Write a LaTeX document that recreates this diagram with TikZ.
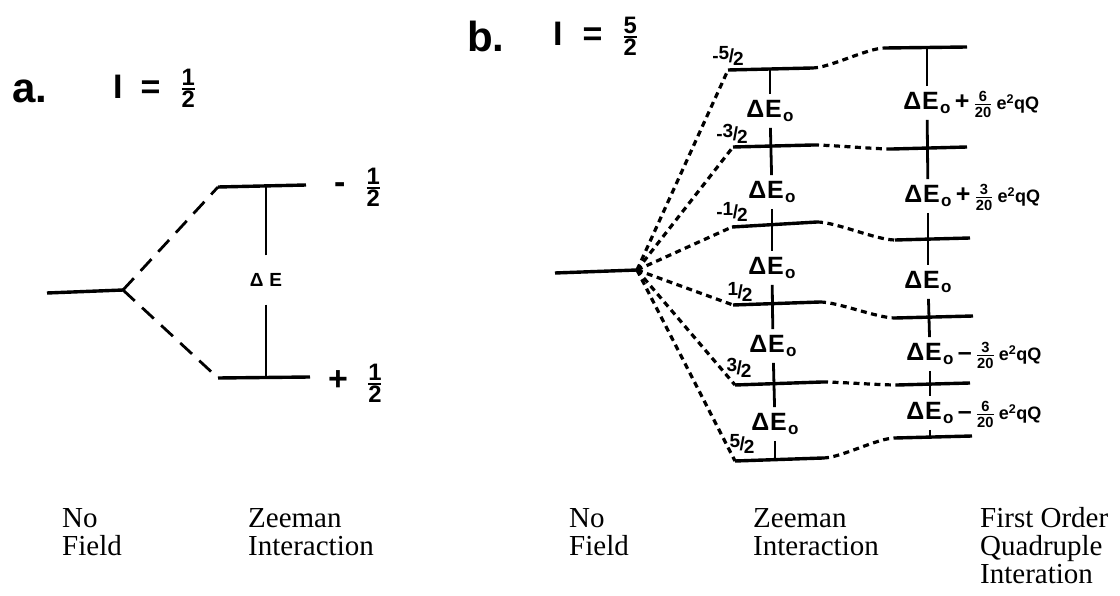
\documentclass[tikz,border=0pt]{standalone}
\usepackage{amsmath}
\usepackage{fontspec}
\setmainfont{Liberation Serif}
\newfontfamily\sanslab{Liberation Sans}
\usetikzlibrary{positioning}

\newcommand{\stk}[2]{\ensuremath{\genfrac{}{}{1.6pt}{1}{\text{#1}}{\text{#2}}}}
\newcommand{\slf}[2]{\raisebox{0.35ex}{#1}\kern-0.02em/\kern-0.06em\raisebox{-0.3ex}{#2}}
\newcommand{\dEo}{Δ\kern0.03em E\kern0.05em\raisebox{-0.3ex}{\fontsize{17}{17}\selectfont o}}
\newcommand{\eqQ}{{\fontsize{18}{18}\selectfont e\textsuperscript{2}qQ}}

\tikzset{
  lvl/.style={line width=3.4pt},
  longdash/.style={line width=2.8pt, dash pattern=on 16pt off 10pt},
  shortdash/.style={line width=3.2pt, dash pattern=on 6pt off 4.5pt},
  spine/.style={line width=2.8pt},
  gaplab/.style={font=\sanslab\bfseries\fontsize{25}{25}\selectfont, inner xsep=1pt, inner ysep=6pt},
  qextra/.style={font=\sanslab\bfseries\fontsize{25}{25}\selectfont, inner sep=0pt},
  mlab/.style={font=\sanslab\bfseries\fontsize{19}{19}\selectfont, inner sep=0pt},
  head/.style={font=\sanslab\bfseries\fontsize{42}{42}\selectfont, inner sep=0pt, anchor=base west},
  spin/.style={font=\sanslab\bfseries\fontsize{34}{34}\selectfont, inner sep=0pt, anchor=base west},
  colname/.style={font=\fontsize{29}{28}\selectfont, align=left, anchor=base west, inner sep=0pt}
}

\begin{document}
\begin{tikzpicture}[x=1pt, y=-1pt]
    \useasboundingbox (0,0) rectangle (1120,596);

    % a. I = 1/2
    \node[head] (ha) at (12,103) {a.};
    \node[spin] (sa) at (113,99) {I\hspace{18pt}=\hspace{20pt}\raisebox{4pt}{\stk{1}{2}}};

    \coordinate (a0l) at (47,293);
    \coordinate (a0r) at (123,290);
    \coordinate (aUl) at (218,187);
    \coordinate (aUr) at (306,185);
    \coordinate (aLl) at (218,378);
    \coordinate (aLr) at (310,377);

    \draw[lvl] (a0l) -- (a0r);
    \draw[longdash] (a0r) -- (aUl);
    \draw[longdash] (a0r) -- (aLl);
    \draw[lvl] (aUl) -- (aUr);
    \draw[lvl] (aLl) -- (aLr);

    \node[font=\sanslab\bfseries\fontsize{19}{19}\selectfont, inner xsep=1pt, inner ysep=18pt] (dEa) at (266,280) {Δ\hspace{6pt}E};
    \draw[spine] (dEa.north) -- (dEa.north |- aUr);
    \draw[spine] (dEa.south) -- (dEa.south |- aLr);

    \node[spin] (mUa) at (334,194) {-\hspace{20pt}\stk{1}{2}};
    \node[spin] (mLa) at (328,390) {+\hspace{19pt}\stk{1}{2}};

    % b. I = 5/2
    \node[head] (hb) at (467,52) {b.};
    \node[spin] (sb) at (553,46) {I\hspace{20pt}=\hspace{20pt}\raisebox{3pt}{\stk{5}{2}}};

    \coordinate (b0l) at (555,273);
    \coordinate (b0r) at (637,270);
    \draw[lvl] (b0l) -- (b0r);

    % Zeeman levels
    \coordinate (z1l) at (728,70);  \coordinate (z1r) at (812,68);
    \coordinate (z2l) at (733,147); \coordinate (z2r) at (813,145);
    \coordinate (z3l) at (732,227); \coordinate (z3r) at (817,222);
    \coordinate (z4l) at (733,305); \coordinate (z4r) at (820,302);
    \coordinate (z5l) at (735,385); \coordinate (z5r) at (822,382);
    \coordinate (z6l) at (735,461); \coordinate (z6r) at (823,458);

    % Quadrupole levels
    \coordinate (q1l) at (885,48);  \coordinate (q1r) at (967,47);
    \coordinate (q2l) at (892,149); \coordinate (q2r) at (967,147);
    \coordinate (q3l) at (895,240); \coordinate (q3r) at (970,238);
    \coordinate (q4l) at (895,318); \coordinate (q4r) at (973,316);
    \coordinate (q5l) at (897,385); \coordinate (q5r) at (970,383);
    \coordinate (q6l) at (895,438); \coordinate (q6r) at (972,436);

    \foreach \i in {1,...,6} {
        \draw[shortdash] (b0r) -- (z\i l);
        \draw[lvl] (z\i l) -- (z\i r);
        \draw[shortdash] (z\i r) to[out=0, in=180, looseness=0.6] (q\i l);
        \draw[lvl] (q\i l) -- (q\i r);
    }

    % m labels
    \node[mlab] (m1) at (728,56)  {-\slf{5}{2}};
    \node[mlab] (m2) at (732,134) {-\slf{3}{2}};
    \node[mlab] (m3) at (732,212) {-\slf{1}{2}};
    \node[mlab] (m4) at (740,292) {\slf{1}{2}};
    \node[mlab] (m5) at (739,368) {\slf{3}{2}};
    \node[mlab] (m6) at (742,444) {\slf{5}{2}};

    % Zeeman splittings
    \node[gaplab] (dz1) at (770,111) {\dEo};
    \node[gaplab] (dz2) at (772,192) {\dEo};
    \node[gaplab] (dz3) at (772,268) {\dEo};
    \node[gaplab] (dz4) at (773,346) {\dEo};
    \node[gaplab] (dz5) at (775,424) {\dEo};
    \draw[spine] (dz1.north) -- (dz1.north |- z1r);
    \draw[spine] (dz1) -- (dz2);
    \draw[spine] (dz2) -- (dz3);
    \draw[spine] (dz3) -- (dz4);
    \draw[spine] (dz4) -- (dz5);
    \draw[spine] (dz5.south) -- (dz5.south |- z6r);

    % Quadrupole splittings
    \node[gaplab] (qd1) at (927,103) {\dEo};
    \node[gaplab] (qd2) at (928,196) {\dEo};
    \node[gaplab] (qd3) at (928,282) {\dEo};
    \node[gaplab] (qd4) at (930,354) {\dEo};
    \node[gaplab] (qd5) at (930,413) {\dEo};
    \draw[spine] (qd1.north) -- (qd1.north |- q1r);
    \draw[spine] (qd1) -- (qd2);
    \draw[spine] (qd2) -- (qd3);
    \draw[spine] (qd3) -- (qd4);
    \draw[spine] (qd4) -- (qd5);
    \draw[spine] (qd5.south) -- (qd5.south |- q6r);

    \node[qextra, right=3pt of qd1.base east, anchor=base west] (qx1) {+\,{\fontsize{21}{21}\selectfont\stk{6}{20}}\,\eqQ};
    \node[qextra, right=3pt of qd2.base east, anchor=base west] (qx2) {+\,{\fontsize{21}{21}\selectfont\stk{3}{20}}\,\eqQ};
    \node[qextra, right=3pt of qd4.base east, anchor=base west] (qx4) {\textendash\,{\fontsize{21}{21}\selectfont\stk{3}{20}}\,\eqQ};
    \node[qextra, right=3pt of qd5.base east, anchor=base west] (qx5) {\textendash\,{\fontsize{21}{21}\selectfont\stk{6}{20}}\,\eqQ};

    % Column names (base = last line)
    \node[colname] (nfa) at (62,555)  {No\\Field};
    \node[colname] (zia) at (248,555) {Zeeman\\Interaction};
    \node[colname] (nfb) at (569,555) {No\\Field};
    \node[colname] (zib) at (753,555) {Zeeman\\Interaction};
    \node[colname] (qib) at (980,583) {First Order\\Quadruple\\Interation};
\end{tikzpicture}
\end{document}
